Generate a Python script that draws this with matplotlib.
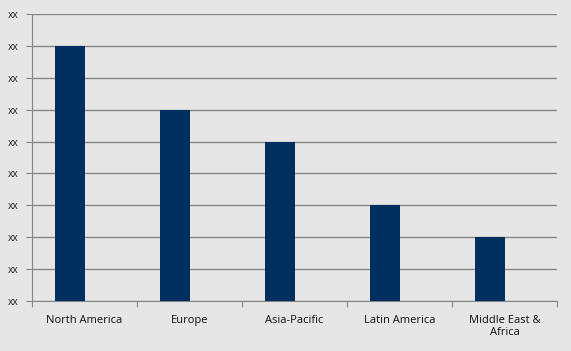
import matplotlib.pyplot as plt

regions = ["North America", "Europe", "Asia-Pacific", "Latin America", "Middle East &\nAfrica"]
values = [8, 6, 5, 3, 2]
y_ticks = list(range(10))
y_labels = ["xx"] * len(y_ticks)

plt.rcParams['font.family'] = ['Open Sans', 'DejaVu Sans']

fig = plt.figure(figsize=(5.71, 3.51), dpi=100, facecolor="#e6e6e6")
ax = fig.add_axes([32/571, 1 - 301/351, (557 - 32)/571, (301 - 14)/351])
ax.set_facecolor("#e6e6e6")

# bars sit a bit left of the category centre, like the Excel original
x = range(len(regions))
ax.bar([i - 0.14 for i in x], values, width=0.286, color="#002e5e", zorder=3)

ax.set_ylim(0, 9)
ax.set_xlim(-0.5, len(regions) - 0.5)
ax.set_yticks(y_ticks)
ax.set_yticklabels(y_labels, fontsize=7.5, color="#222222")
ax.yaxis.grid(True, color="#868686", linewidth=1, zorder=0)

ax.set_xticks([i - 0.5 for i in range(len(regions) + 1)])
ax.set_xticklabels([])
ax.set_xticks(list(x), minor=True)
ax.set_xticklabels(regions, minor=True, fontsize=8, color="#111111", multialignment="center")
ax.tick_params(axis="x", which="minor", length=0, pad=10)
ax.tick_params(axis="x", which="major", length=4, color="#868686")
ax.tick_params(axis="y", length=4, color="#868686", pad=6)

for side in ["top", "right"]:
    ax.spines[side].set_visible(False)
for side in ["left", "bottom"]:
    ax.spines[side].set_color("#868686")

fig.savefig("out.png", dpi=100, facecolor=fig.get_facecolor())
